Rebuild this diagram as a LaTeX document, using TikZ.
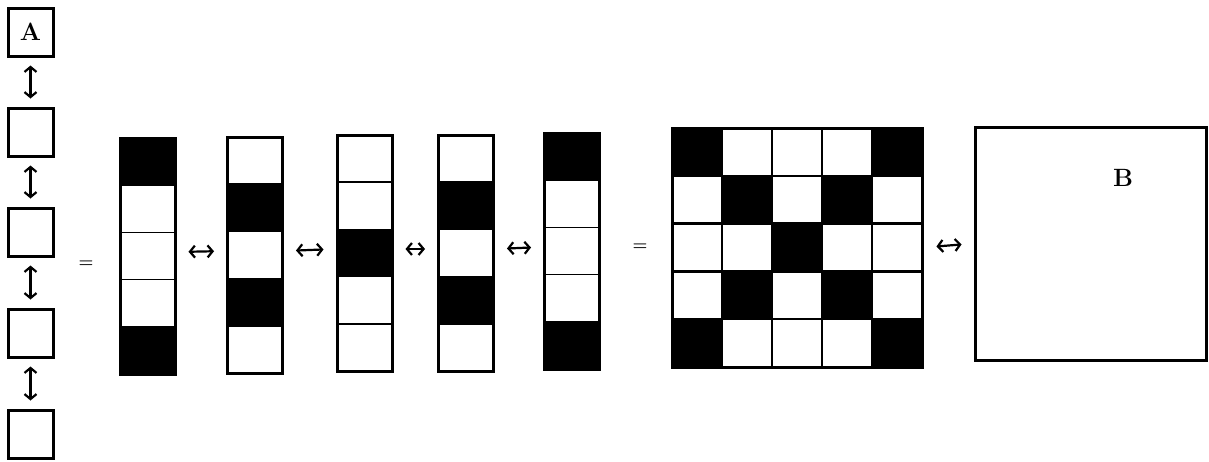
\documentclass[tikz,border=0pt]{standalone}
\usetikzlibrary{arrows.meta}
\begin{document}
\begin{tikzpicture}[x=1pt,y=-1pt,
  cellbox/.style={draw, line width=3pt, inner sep=0pt, minimum width=45pt, minimum height=48pt},
  strip/.style={draw, line width=3pt, inner sep=0pt, minimum width=55pt, minimum height=236pt},
  dbl/.style={{Straight Barb[length=5pt,width=12pt]}-{Straight Barb[length=5pt,width=12pt]}, line width=2.2pt},
  eq/.style={inner sep=0pt, font=\bfseries\fontsize{17}{17}\selectfont},
  lbl/.style={inner sep=0pt, font=\bfseries\fontsize{25}{25}\selectfont}]
\useasboundingbox (0,0) rectangle (1209,461);
% left column
\foreach \n/\cy in {b1/32, b2/132, b3/232, b4/333, b5/434} {
  \node[cellbox] (\n) at (30.5,\cy) {};
}
\node[lbl] (la) at (b1) {A};
\foreach \a/\b in {b1/b2, b2/b3, b3/b4, b4/b5} {
  \draw[dbl, shorten <=8pt, shorten >=8pt] (\a.south) -- (\b.north);
}
% strips
\foreach \n/\cx/\ty/\blk in {s1/147.5/138/{0,4}, s2/255/137/{1,3}, s3/364.5/135/{2}, s4/466/135/{1,3}, s5/572/133/{0,4}} {
  \foreach \b in \blk { \fill (\cx-27.5, \ty+\b*47.2) rectangle (\cx+27.5, \ty+\b*47.2+47.2); }
  \foreach \b in {1,...,4} { \draw[line width=1.6pt] (\cx-27.5, \ty+\b*47.2) -- (\cx+27.5, \ty+\b*47.2); }
  \node[strip] (\n) at (\cx, \ty+118) {};
}
\node[eq] (e1) at (86,264) {=};
\foreach \a/\b in {s1/s2, s2/s3, s3/s4, s4/s5} {
  \draw[dbl, shorten <=12pt, shorten >=12pt] ([yshift=4pt]\a.east) -- ([yshift=4pt]\b.west);
}
\node[eq] (e2) at (640,247) {=};
% grid
\foreach \r in {0,...,4} {
  \foreach \c in {0,...,4} {
    \pgfmathtruncatemacro{\s}{(\r==\c) || (\r+\c==4)}
    \ifnum\s=1
      \fill (672+\c*50, 128+\r*47.8) rectangle (722+\c*50, 175.8+\r*47.8);
    \fi
  }
}
\foreach \k in {1,...,4} {
  \draw[line width=2.4pt] (672+\k*50,128) -- (672+\k*50,367);
  \draw[line width=2.4pt] (672,128+\k*47.8) -- (922,128+\k*47.8);
}
\node[draw, line width=3pt, inner sep=0pt, minimum width=250pt, minimum height=239pt] (g) at (797,247.5) {};
% box B
\node[draw, line width=3pt, inner sep=0pt, minimum width=231pt, minimum height=233pt] (bb) at (1090.5,243.5) {};
\node[lbl] (lb) at (1123,178) {B};
\draw[dbl, shorten <=13pt, shorten >=12pt] (g.east) -- (bb.west);
\end{tikzpicture}
\end{document}
